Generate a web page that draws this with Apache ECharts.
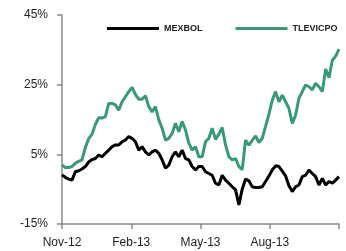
<!DOCTYPE html>
<html>
<head>
<meta charset="utf-8">
<script src="https://cdn.jsdelivr.net/npm/echarts@6/dist/echarts.min.js"></script>
<style>
  html, body { margin: 0; padding: 0; background: #fff; }
  #chart { width: 346px; height: 251px; }
</style>
</head>
<body>
<div id="chart"></div>
<script>
// Etiquetas del eje x (cada 3 meses) y nombres de series
const monthLabels = ['Nov-12', 'Feb-13', 'May-13', 'Aug-13', ''];
const seriesNames = ['MEXBOL', 'TLEVICPO'];

// Rendimiento acumulado (%), muestras aprox. cada 4 días
const mexbol = [
  -0.9, -1.6, -2.1, -2.4, 0.0, 0.3, 0.8, 1.5, 2.8, 3.5, 3.8, 4.8, 4.3, 5.3,
  6.2, 7.2, 7.7, 7.7, 8.6, 9.1, 10.1, 9.6, 8.6, 6.2, 7.2, 5.7, 4.8, 5.7,
  6.2, 5.3, 3.4, 1.0, 1.9, 4.3, 5.7, 4.3, 6.2, 3.8, 3.4, 1.5, 0.5, 1.5,
  1.5, 0.0, -0.5, -1.0, -3.3, -3.8, -1.0, -2.4, -3.3, -4.3, -5.2, -9.5, -5.0, -2.1,
  -2.6, -4.3, -4.5, -4.5, -4.3, -2.8, -1.2, 0.5, 1.7, 1.5, 0.2, -1.2, -4.0, -5.7,
  -4.3, -3.8, -1.4, -1.0, 0.5, -0.5, -1.4, -3.8, -1.9, -3.8, -2.8, -3.3, -2.4, -1.4
];
const tlevicpo = [
  2.0, 1.2, 1.2, 1.5, 2.4, 3.0, 3.4, 7.0, 9.5, 10.8, 13.6, 15.5, 15.4, 15.8,
  19.6, 19.6, 19.2, 17.7, 20.1, 21.5, 23.0, 24.2, 22.2, 20.8, 20.8, 21.8, 18.7, 17.2,
  18.7, 14.9, 12.5, 9.1, 9.6, 11.0, 13.9, 11.5, 14.4, 12.0, 8.2, 6.2, 7.2, 4.3,
  4.3, 8.6, 9.6, 12.5, 9.3, 10.8, 12.7, 7.7, 4.3, 3.4, 3.8, 1.5, 0.6, 9.1,
  7.6, 9.0, 10.3, 8.4, 9.6, 13.0, 16.5, 20.5, 23.0, 20.1, 22.0, 20.1, 18.2, 13.9,
  16.3, 21.1, 23.0, 24.9, 24.4, 23.5, 25.4, 24.4, 23.0, 29.5, 27.0, 32.0, 33.2, 35.2
];

// eje x en meses desde nov-12 (0..12)
function toPairs(values) {
  const n = values.length;
  return values.map((v, i) => [i * 12 / (n - 1), v]);
}

const container = document.getElementById('chart');
const chart = echarts.init(container, null, { renderer: 'canvas' });
const axisGray = '#8a8a8a';
const font = 'Liberation Sans, Arial, sans-serif';

chart.setOption({
  animation: false,
  textStyle: { fontFamily: font },
  legend: {
    left: 102,
    top: 19,
    itemWidth: 52,
    itemHeight: 3,
    itemGap: 33,
    icon: 'rect',
    textStyle: { fontSize: 9, fontWeight: 'bold', color: '#222', fontFamily: font },
    data: seriesNames
  },
  grid: { left: 62, right: 7, top: 15, bottom: 27, containLabel: false },
  xAxis: {
    type: 'value',
    min: 0,
    max: 12,
    interval: 3,
    axisLine: { onZero: false, lineStyle: { color: axisGray, width: 1.5 } },
    axisTick: { show: true, length: 5, lineStyle: { color: axisGray, width: 1.5 } },
    axisLabel: {
      margin: 13,
      fontSize: 12,
      color: '#222',
      fontFamily: font,
      formatter: v => monthLabels[Math.round(v / 3)] || ''
    },
    splitLine: { show: false }
  },
  yAxis: {
    type: 'value',
    min: -15,
    max: 45,
    interval: 20,
    axisLine: { show: true, onZero: false, lineStyle: { color: axisGray, width: 1.5 } },
    axisTick: { show: true, length: 5, lineStyle: { color: axisGray, width: 1.5 } },
    axisLabel: {
      margin: 14,
      fontSize: 12,
      color: '#222',
      fontFamily: font,
      formatter: v => v + '%'
    },
    splitLine: { show: false }
  },
  series: [
    {
      name: seriesNames[0],
      type: 'line',
      data: toPairs(mexbol),
      showSymbol: false,
      color: '#000000',
      lineStyle: { color: '#000000', width: 3 },
      z: 3
    },
    {
      name: seriesNames[1],
      type: 'line',
      data: toPairs(tlevicpo),
      showSymbol: false,
      color: '#3a987a',
      lineStyle: { color: '#3a987a', width: 3 },
      z: 2
    }
  ]
});
</script>
</body>
</html>
